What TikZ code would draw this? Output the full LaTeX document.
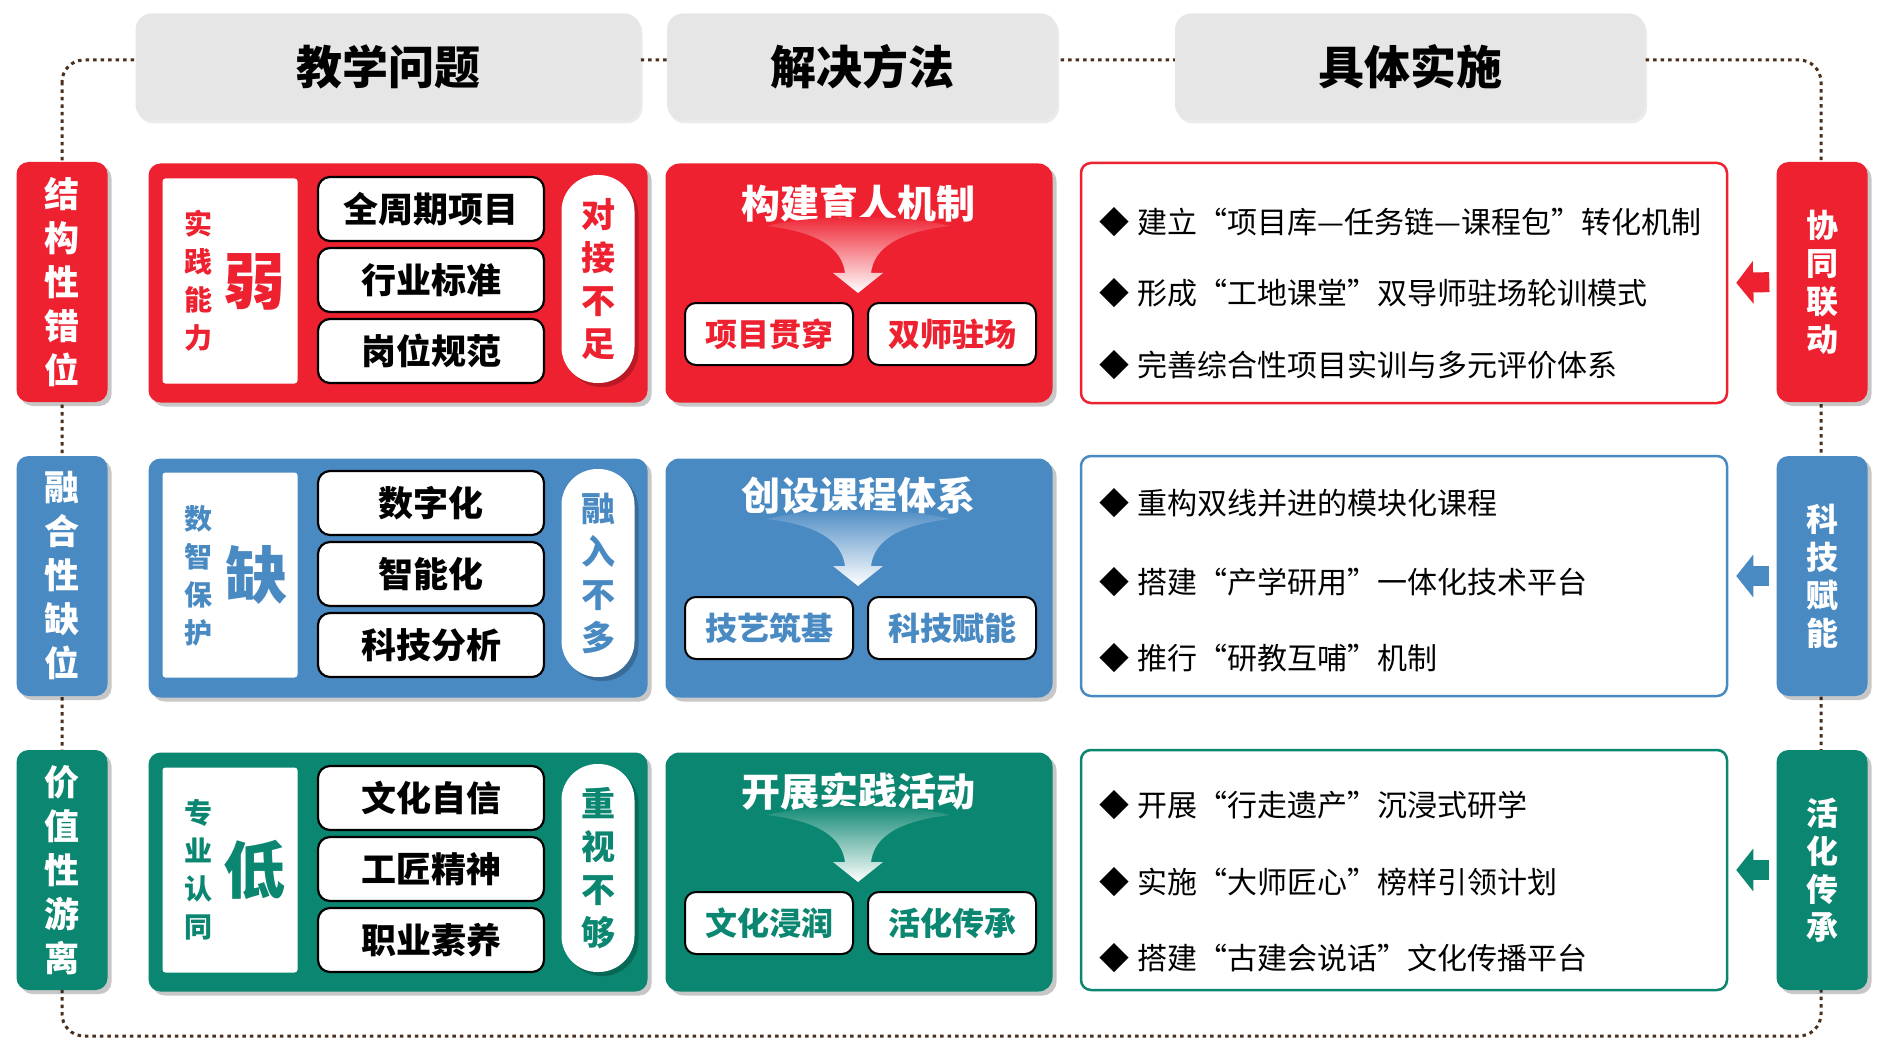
\documentclass[tikz,border=0pt]{standalone}
\usepackage{fontspec}
\setmainfont{Noto Sans CJK SC}
\usetikzlibrary{shadows,arrows.meta}

\definecolor{rowred}{HTML}{EE2130}
\definecolor{rowblue}{HTML}{4A8AC3}
\definecolor{rowgreen}{HTML}{0B8670}
\definecolor{hdrgray}{HTML}{E6E6E6}
\definecolor{loopbrown}{HTML}{4A2F1C}

\tikzset{
  softshadow/.style={drop shadow={shadow xshift=4pt, shadow yshift=-4pt, fill=black, opacity=0.22}},
  header/.style={fill=hdrgray, rounded corners=16pt, minimum height=107pt,
    font=\bfseries\fontsize{46}{46}\selectfont,
    drop shadow={shadow xshift=2pt, shadow yshift=-3pt, fill=black, opacity=0.08}},
  lab/.style={fill=#1, text=white, rounded corners=12pt, minimum width=91pt,
    minimum height=240pt, align=center, font=\bfseries\fontsize{35}{44}\selectfont, softshadow},
  side/.style={lab=#1, font=\bfseries\fontsize{32}{38}\selectfont},
  probbox/.style={fill=#1, rounded corners=12pt, minimum width=499pt, minimum height=239pt, softshadow},
  methbox/.style={fill=#1, rounded corners=14pt, minimum width=387pt, minimum height=239pt, softshadow},
  implbox/.style={draw=#1, line width=2.5pt, fill=white, rounded corners=10pt,
    minimum width=646pt, minimum height=240pt},
  whitebox/.style={fill=white, rounded corners=3pt, minimum width=135pt, minimum height=205pt},
  keybox/.style={draw=black, line width=2.2pt, fill=white, rounded corners=12pt,
    minimum width=226pt, minimum height=64pt, font=\bfseries\fontsize{35}{35}\selectfont},
  pill/.style={fill=white, rounded corners=36pt, minimum width=73pt, minimum height=208pt,
    text=#1, align=center, font=\bfseries\fontsize{34}{43}\selectfont, softshadow},
  vtext/.style={text=#1, align=center, font=\bfseries\fontsize{28}{38}\selectfont},
  bigchar/.style={text=#1, font=\bfseries\fontsize{62}{62}\selectfont},
  methtitle/.style={text=white, font=\bfseries\fontsize{39}{39}\selectfont},
  subbox/.style={draw=black, line width=2pt, fill=white, rounded corners=11pt,
    minimum width=168pt, minimum height=62pt, text=#1, font=\bfseries\fontsize{32}{32}\selectfont},
  item/.style={anchor=west, font=\fontsize{30}{30}\selectfont},
  sidearrow/.style={draw=#1, line width=20pt, -{Triangle[length=17pt, width=42pt]},
    shorten <=7pt, shorten >=8pt},
  loopline/.style={draw=loopbrown, line width=3pt, dash pattern=on 3.5pt off 4pt, rounded corners=22pt}
}

\begin{document}
\begin{tikzpicture}[x=1pt, y=-1pt]
    \useasboundingbox (0,0) rectangle (1884,1059);

    % dotted loop behind everything
    \draw[loopline] (62,60) rectangle (1821,1036);

    % column headers
    \node[header, minimum width=505pt] (hprob) at (388,67) {教学问题};
    \node[header, minimum width=390pt] (hmeth) at (862,67) {解决方法};
    \node[header, minimum width=470pt] (himpl) at (1410,67) {具体实施};

    % Row 1 (red)
    \node[lab=rowred] (lab1) at (62,282) {结\\构\\性\\错\\位};
    \node[probbox=rowred] (prob1) at (398,283) {};
    \node[whitebox] (wb1) at (230,281) {};
    \node[vtext=rowred] (wt1) at (198,281) {实\\践\\能\\力};
    \node[bigchar=rowred] (big1) at (254,282) {弱};
    \node[keybox] (k11) at (431,209) {全周期项目};
    \node[keybox] (k12) at (431,280) {行业标准};
    \node[keybox] (k13) at (431,351) {岗位规范};
    \node[pill=rowred] (pill1) at (598,279) {对\\接\\不\\足};
    \node[methbox=rowred] (meth1) at (859,283) {};
    \node[methtitle] (mt1) at (858,203) {构建育人机制};
    \shade[top color=rowred, bottom color=white] (767,226) .. controls (818,232) and (842,248) .. (845,273)
        -- (833,273) -- (858,293) -- (883,273) -- (871,273)
        .. controls (874,248) and (898,232) .. (950,226) .. controls (905,214) and (812,214) .. (767,226) -- cycle;
    \node[subbox=rowred] (s11) at (769,334) {项目贯穿};
    \node[subbox=rowred] (s12) at (952,334) {双师驻场};
    \node[implbox=rowred] (impl1) at (1404,283) {};
    \node[item] (i11) at (1096,222) {◆\hspace{8pt}建立“项目库—任务链—课程包”转化机制};
    \node[item] (i12) at (1096,293) {◆\hspace{8pt}形成“工地课堂”双导师驻场轮训模式};
    \node[item] (i13) at (1096,365) {◆\hspace{8pt}完善综合性项目实训与多元评价体系};
    \node[side=rowred] (side1) at (1822,282) {协\\同\\联\\动};
    \draw[sidearrow=rowred] (side1.west) -- (impl1.east);

    % Row 2 (blue)
    \node[lab=rowblue] (lab2) at (62,576) {融\\合\\性\\缺\\位};
    \node[probbox=rowblue] (prob2) at (398,578) {};
    \node[whitebox] (wb2) at (230,575) {};
    \node[vtext=rowblue] (wt2) at (198,576) {数\\智\\保\\护};
    \node[bigchar=rowblue] (big2) at (256,575) {缺};
    \node[keybox] (k21) at (431,503) {数字化};
    \node[keybox] (k22) at (431,574) {智能化};
    \node[keybox] (k23) at (431,645) {科技分析};
    \node[pill=rowblue] (pill2) at (598,573) {融\\入\\不\\多};
    \node[methbox=rowblue] (meth2) at (859,578) {};
    \node[methtitle] (mt2) at (858,496) {创设课程体系};
    \shade[top color=rowblue, bottom color=white, shift={(0,293)}] (767,226) .. controls (818,232) and (842,248) .. (845,273)
        -- (833,273) -- (858,293) -- (883,273) -- (871,273)
        .. controls (874,248) and (898,232) .. (950,226) .. controls (905,214) and (812,214) .. (767,226) -- cycle;
    \node[subbox=rowblue] (s21) at (769,628) {技艺筑基};
    \node[subbox=rowblue] (s22) at (952,628) {科技赋能};
    \node[implbox=rowblue] (impl2) at (1404,576) {};
    \node[item] (i21) at (1096,503) {◆\hspace{8pt}重构双线并进的模块化课程};
    \node[item] (i22) at (1096,582) {◆\hspace{8pt}搭建“产学研用”一体化技术平台};
    \node[item] (i23) at (1096,658) {◆\hspace{8pt}推行“研教互哺”机制};
    \node[side=rowblue] (side2) at (1822,576) {科\\技\\赋\\能};
    \draw[sidearrow=rowblue] (side2.west) -- (impl2.east);

    % Row 3 (green)
    \node[lab=rowgreen] (lab3) at (62,870) {价\\值\\性\\游\\离};
    \node[probbox=rowgreen] (prob3) at (398,872) {};
    \node[whitebox] (wb3) at (230,870) {};
    \node[vtext=rowgreen] (wt3) at (198,870) {专\\业\\认\\同};
    \node[bigchar=rowgreen] (big3) at (254,870) {低};
    \node[keybox] (k31) at (431,798) {文化自信};
    \node[keybox] (k32) at (431,869) {工匠精神};
    \node[keybox] (k33) at (431,940) {职业素养};
    \node[pill=rowgreen] (pill3) at (598,868) {重\\视\\不\\够};
    \node[methbox=rowgreen] (meth3) at (859,872) {};
    \node[methtitle] (mt3) at (858,792) {开展实践活动};
    \shade[top color=rowgreen, bottom color=white, shift={(0,589)}] (767,226) .. controls (818,232) and (842,248) .. (845,273)
        -- (833,273) -- (858,293) -- (883,273) -- (871,273)
        .. controls (874,248) and (898,232) .. (950,226) .. controls (905,214) and (812,214) .. (767,226) -- cycle;
    \node[subbox=rowgreen] (s31) at (769,923) {文化浸润};
    \node[subbox=rowgreen] (s32) at (952,923) {活化传承};
    \node[implbox=rowgreen] (impl3) at (1404,870) {};
    \node[item] (i31) at (1096,805) {◆\hspace{8pt}开展“行走遗产”沉浸式研学};
    \node[item] (i32) at (1096,882) {◆\hspace{8pt}实施“大师匠心”榜样引领计划};
    \node[item] (i33) at (1096,958) {◆\hspace{8pt}搭建“古建会说话”文化传播平台};
    \node[side=rowgreen] (side3) at (1822,870) {活\\化\\传\\承};
    \draw[sidearrow=rowgreen] (side3.west) -- (impl3.east);
\end{tikzpicture}
\end{document}
